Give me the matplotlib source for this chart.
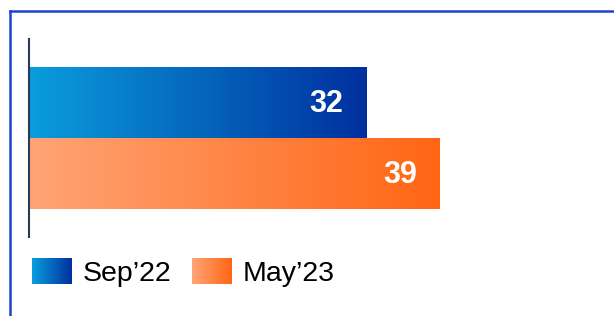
import numpy as np
import matplotlib
matplotlib.use("Agg")
import matplotlib.pyplot as plt
from matplotlib.colors import LinearSegmentedColormap
from matplotlib.legend_handler import HandlerBase
from matplotlib.patches import Rectangle
from matplotlib.lines import Line2D

# ---- DATA ---- #
series = ["Sep\u201922", "May\u201923"]
values = [32, 39]
grad_colors = [("#0a9ddc", "#00309e"), ("#ffa476", "#ff6614")]

plt.rcParams["font.family"] = ["Liberation Sans", "DejaVu Sans"]


class GradientHandler(HandlerBase):
    def __init__(self, cmap):
        super().__init__()
        self.cmap = cmap

    def create_artists(self, legend, orig_handle, xdescent, ydescent,
                       width, height, fontsize, trans):
        n = 40
        arts = []
        for i in range(n):
            r = Rectangle((-xdescent + width * i / n, -ydescent), width / n * 1.05, height,
                          facecolor=self.cmap(i / (n - 1)), edgecolor="none", transform=trans)
            arts.append(r)
        return arts


# ---- PLOT ---- #
W, H = 614, 316
fig = plt.figure(figsize=(W / 100, H / 100), dpi=100)
ax = fig.add_axes([29 / W, (H - 237) / H, 569 / W, 198 / H])

cmaps = [LinearSegmentedColormap.from_list(f"g{i}", c) for i, c in enumerate(grad_colors)]
grad = np.linspace(0, 1, 256).reshape(1, -1)

handles = []
for i, (name, val) in enumerate(zip(series, values)):
    bar = ax.barh(i, val, height=1.0, color="none", edgecolor="none")[0]
    x, y, w, h = bar.get_x(), bar.get_y(), bar.get_width(), bar.get_height()
    im = ax.imshow(grad, extent=[x, x + w, y + h, y], cmap=cmaps[i], aspect="auto",
                   interpolation="bicubic", zorder=2)
    im.set_clip_path(bar)
    ax.text(x + w - 2.2, i + 0.02, str(val), ha="right", va="center", color="white",
            fontsize=22, fontweight="bold", zorder=3)
    handles.append(bar)

ax.set_xlim(0, 54)
ax.set_ylim(1.9, -0.9)
ax.set_xticks([])
ax.set_yticks([])
for s in ["top", "right", "bottom"]:
    ax.spines[s].set_visible(False)
ax.spines["left"].set_color("#2b3a55")
ax.spines["left"].set_linewidth(1.5)
ax.patch.set_alpha(0)

leg = fig.legend(handles, series, loc="center left",
                 bbox_to_anchor=(32 / W, 43.5 / H), bbox_transform=fig.transFigure,
                 ncol=2, frameon=False, fontsize=20.5, borderpad=0, borderaxespad=0,
                 handlelength=1.4, handleheight=1.02, handletextpad=0.38,
                 columnspacing=0.72,
                 handler_map={handles[0]: GradientHandler(cmaps[0]),
                              handles[1]: GradientHandler(cmaps[1])})

# frame lines (top + left)
border = "#1d44d0"
fig.add_artist(Line2D([9.5 / W, 1], [1 - 10.5 / H, 1 - 10.5 / H], color=border,
                      linewidth=1.8, transform=fig.transFigure))
fig.add_artist(Line2D([9.5 / W, 9.5 / W], [0, 1 - 10.5 / H], color=border,
                      linewidth=1.8, transform=fig.transFigure))

fig.savefig("out.png", dpi=100)
